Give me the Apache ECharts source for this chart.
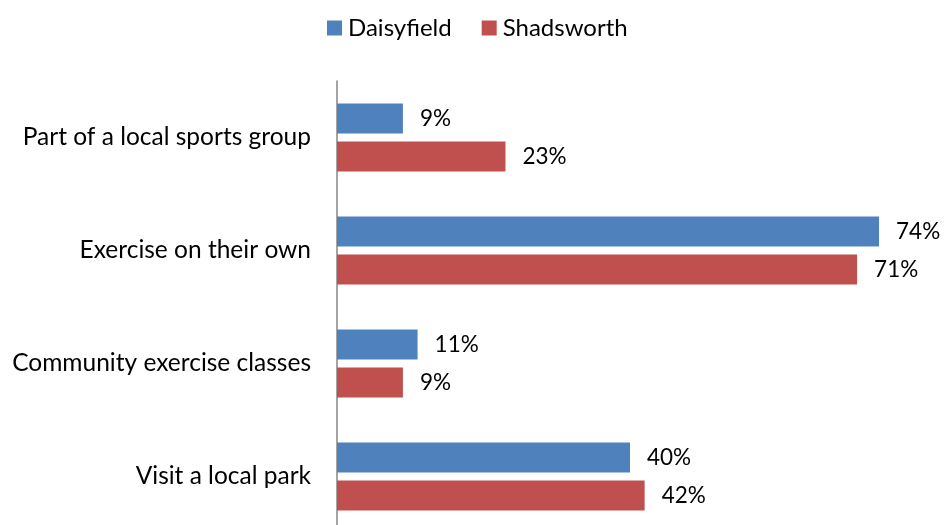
<!DOCTYPE html>
<html><head><meta charset="utf-8">
<script src="https://cdn.jsdelivr.net/npm/echarts@6/dist/echarts.min.js"></script>
<style>html,body{margin:0;padding:0;background:#fff}#c{width:946px;height:525px}</style>
</head><body><div id="c"></div>
<script>
const categories = ["Part of a local sports group", "Exercise on their own", "Community exercise classes", "Visit a local park"];
const daisyfield = [9, 74, 11, 40];
const shadsworth = [23, 71, 9, 42];
const seriesNames = ["Daisyfield", "Shadsworth"];

const chart = echarts.init(document.getElementById('c'));
const font = 'Lato, "Open Sans", sans-serif';
const lbl = {show: true, position: 'right', distance: 17, formatter: '{c}%', color: '#000', fontSize: 22.5, fontFamily: font};
chart.setOption({
  animation: false,
  textStyle: {fontFamily: font},
  legend: {
    top: 11, left: 322, itemWidth: 15, itemHeight: 15, itemGap: 30,
    icon: 'rect',
    textStyle: {fontSize: 24, color: '#000', fontFamily: font, padding: [0, 0, 0, 1]},
    data: seriesNames
  },
  grid: {left: 337, top: 81, bottom: -8, right: 23, containLabel: false, outerBoundsMode: 'none'},
  xAxis: {type: 'value', min: 0, max: 80, show: false},
  yAxis: {
    type: 'category', data: categories, inverse: true,
    axisLine: {show: true, lineStyle: {color: '#868686', width: 1.5}},
    axisTick: {show: false},
    axisLabel: {fontSize: 24.5, color: '#000', margin: 26, fontFamily: font}
  },
  series: [
    {name: seriesNames[0], type: 'bar', data: daisyfield, barWidth: 30, barGap: '27%', itemStyle: {color: '#4F81BD'}, label: lbl},
    {name: seriesNames[1], type: 'bar', data: shadsworth, barWidth: 30, barGap: '27%', itemStyle: {color: '#C0504D'}, label: lbl}
  ]
});
</script></body></html>
